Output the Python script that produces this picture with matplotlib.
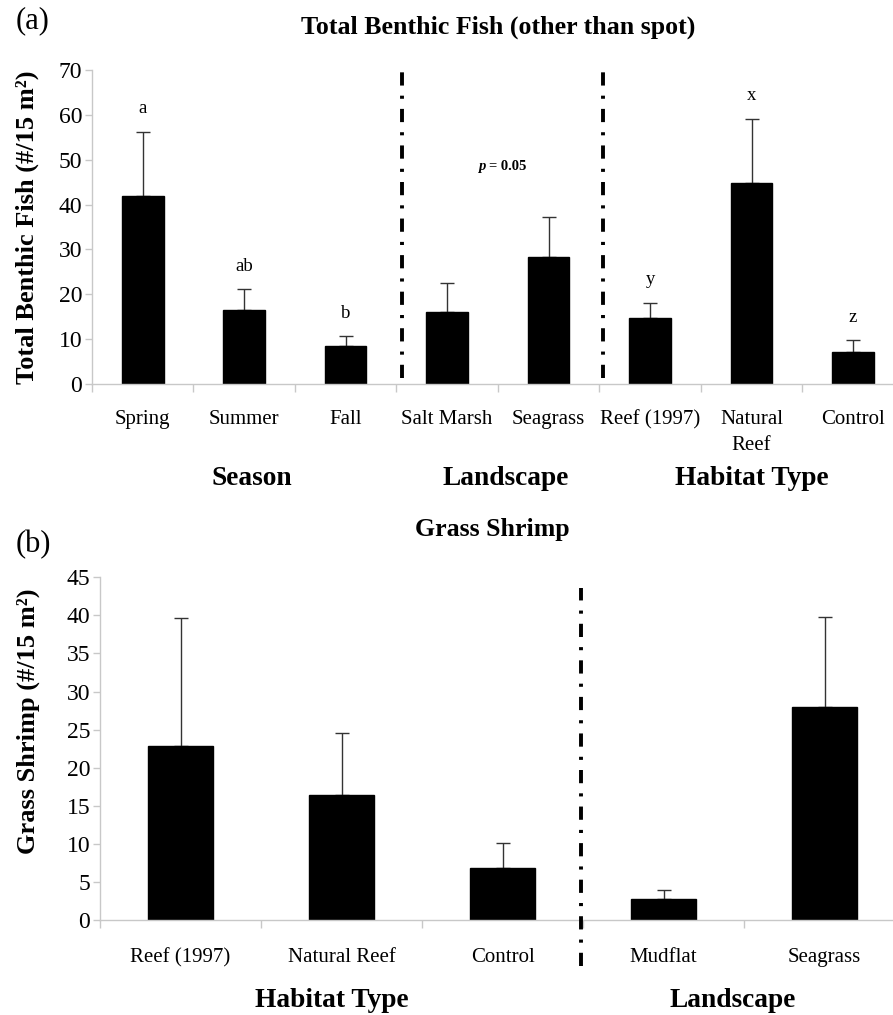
import numpy as np
import matplotlib.pyplot as plt
from matplotlib import transforms

plt.rcParams['font.family'] = ['Liberation Serif', 'DejaVu Serif']

# painel (a) - peixes bentonicos
fish_cats = ['Spring', 'Summer', 'Fall', 'Salt Marsh', 'Seagrass',
             'Reef (1997)', 'Natural\nReef', 'Control']
fish_mean = [41.9, 16.6, 8.5, 16.1, 28.4, 14.6, 44.9, 7.2]
fish_err = [14.3, 4.5, 2.2, 6.5, 8.9, 3.5, 14.2, 2.5]
fish_letters = ['a', 'ab', 'b', '', '', 'y', 'x', 'z']
fish_groups = ['Season', 'Landscape', 'Habitat Type']

# painel (b) - camarao
shrimp_cats = ['Reef (1997)', 'Natural Reef', 'Control', 'Mudflat', 'Seagrass']
shrimp_mean = [22.8, 16.4, 6.8, 2.7, 28.0]
shrimp_err = [16.8, 8.1, 3.3, 1.3, 11.8]
shrimp_groups = ['Habitat Type', 'Landscape']

AXIS_GRAY = '#c8c8c8'
DASHDOT = (0, (3.4, 2.6, 0.8, 2.6))

fig = plt.figure(figsize=(8.93, 10.15), dpi=100)


def style_axes(ax, n, pad):
    for s in ['top', 'right']:
        ax.spines[s].set_visible(False)
    for s in ['left', 'bottom']:
        ax.spines[s].set_color(AXIS_GRAY)
        ax.spines[s].set_linewidth(1.0)
    ax.set_xlim(-0.5, n - 0.5)
    ax.set_xticks(np.arange(n))
    ax.set_xticks(np.arange(n + 1) - 0.5, minor=True)
    ax.tick_params(axis='x', which='major', length=0, labelsize=15, pad=pad)
    ax.tick_params(axis='x', which='minor', length=6, color=AXIS_GRAY, width=1)
    ax.tick_params(axis='y', length=5, color=AXIS_GRAY, width=1, labelsize=17, pad=2)


def draw_bars(ax, mean, err, width):
    x = np.arange(len(mean))
    ax.bar(x, mean, width=width, color='black', edgecolor='black', zorder=2)
    ax.errorbar(x, mean, yerr=[np.zeros(len(err)), err], fmt='none',
                ecolor='#333333', elinewidth=1.0, capsize=5, capthick=1.0, zorder=1)


# ---- (a)
ax1 = fig.add_axes([0.103, 0.6217, 0.909, 0.3094])
style_axes(ax1, len(fish_cats), 19)
draw_bars(ax1, fish_mean, fish_err, 0.41)
ax1.set_ylim(0, 70)
ax1.set_yticks(np.arange(0, 71, 10))
ax1.set_xticklabels(fish_cats, linespacing=1.45, va='top')
for i, lab in enumerate(fish_letters):
    if lab:
        ax1.text(i, fish_mean[i] + fish_err[i] + 5.1, lab, ha='center', va='center', fontsize=13.5)
ax1.text(3.34, 48.4, 'p', ha='center', va='center', fontsize=10.5,
         fontweight='bold', fontstyle='italic')
ax1.text(3.6, 48.4, '= 0.05', ha='center', va='center', fontsize=10.5, fontweight='bold')
for xv in [2.56, 4.54]:
    ax1.plot([xv, xv], [1.3, 70], color='black', lw=2.8, linestyle=DASHDOT, zorder=3)
ax1.set_ylabel('Total Benthic Fish (#/15 m²)', fontsize=19, fontweight='bold')
ax1.yaxis.set_label_coords(-0.065, 0.5)
trans1 = transforms.blended_transform_factory(ax1.transData, ax1.transAxes)
for xg, g in zip([1.08, 3.58, 6.0], fish_groups):
    ax1.text(xg, -0.30, g, transform=trans1, ha='center', va='center',
             fontsize=19.7, fontweight='bold')
fig.text(0.558, 0.973, 'Total Benthic Fish (other than spot)', ha='center', va='center',
         fontsize=18.6, fontweight='bold')
fig.text(0.018, 0.980, '(a)', ha='left', va='center', fontsize=22)

# ---- (b)
ax2 = fig.add_axes([0.112, 0.0936, 0.9015, 0.3376])
style_axes(ax2, len(shrimp_cats), 20)
draw_bars(ax2, shrimp_mean, shrimp_err, 0.40)
ax2.set_ylim(0, 45)
ax2.set_yticks(np.arange(0, 46, 5))
ax2.set_xticklabels(shrimp_cats)
ax2.plot([2.49, 2.49], [-6.1, 43.6], color='black', lw=2.8, linestyle=DASHDOT,
         clip_on=False, zorder=3)
ax2.set_ylabel('Grass Shrimp (#/15 m²)', fontsize=19, fontweight='bold')
ax2.yaxis.set_label_coords(-0.075, 0.58)
trans2 = transforms.blended_transform_factory(ax2.transData, ax2.transAxes)
for xg, g in zip([0.94, 3.43], shrimp_groups):
    ax2.text(xg, -0.235, g, transform=trans2, ha='center', va='center',
             fontsize=19.7, fontweight='bold')
fig.text(0.551, 0.478, 'Grass Shrimp', ha='center', va='center',
         fontsize=18.6, fontweight='bold')
fig.text(0.018, 0.463, '(b)', ha='left', va='center', fontsize=22)

fig.savefig('out.png', dpi=100)
